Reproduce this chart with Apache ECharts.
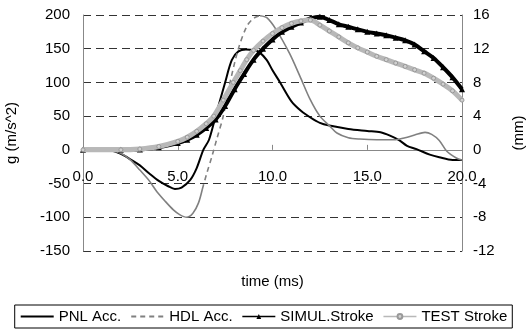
<!DOCTYPE html>
<html><head><meta charset="utf-8">
<script src="https://cdn.jsdelivr.net/npm/echarts@6/dist/echarts.min.js"></script>
<style>html,body{margin:0;padding:0;background:#fff}#c{width:527px;height:331px}</style>
</head><body><div id="c"></div><script>
// ---- data ----
const pnlT = [0,1,1.5,2,2.5,3,3.5,4,4.5,4.85,5.2,5.65,6.0,6.35,6.65,7.0,7.5,7.85,8.2,8.6,9.0,9.3,9.7,10.0,10.4,11.0,11.5,12.0,12.5,13.0,14.0,15.0,15.7,16.2,16.7,17.1,17.6,18.3,18.8,19.5,20];
const pnlG = [0,0,-1,-6,-14,-23,-35,-46,-54,-58,-56,-45,-27,0,15,50,100,133,146,149,148,145,133,118,100,72,58,48,40,36,31,28,26,21,14,6,1,-7,-11,-15,-15];

const hdlT = [0,1,1.5,2,2.5,3,3.5,3.9,4.3,4.77,5.1,5.47,5.8,6.09,6.3,6.53,6.8,7.05,7.4,7.76,8.2,8.64,9.0,9.34,9.7,10.2,10.9,11.45,12.0,12.5,13.0,13.4,14.0,14.6,15.5,16.5,17.0,17.5,18.05,18.4,18.8,19.2,19.7,20];
const hdlG = [0,0,-1,-5,-15,-30,-46,-62,-75,-89,-96,-100,-94,-79,-58,-35,-10,15,50,100,150,183,195,199,196,178,143,109,74,50,36,25,18,16,15,15,18,22,26,23,14,-2,-12,-15];

const simT = [0,2,3,4,5,5.5,6,6.5,7,7.5,8,8.5,9,9.5,10,10.5,11,11.5,12,12.5,13,13.5,14,14.5,15,15.5,16,16.5,17,17.5,18,18.5,19,19.5,20];
const simMM = [0,0,0.05,0.3,0.8,1.2,1.8,2.6,3.6,5.2,7.2,9.0,10.7,12.0,13.1,14.0,14.6,15.1,15.6,15.8,15.4,14.9,14.6,14.3,14.0,13.8,13.6,13.3,13.0,12.5,11.7,10.9,9.8,8.6,7.2];

const testT = [0,2,3,4,5,5.5,6,6.5,6.9,7.4,7.93,8.3,8.64,9,9.5,10,10.5,11,11.5,12,12.5,13,13.5,14,14.5,15,15.5,16,16.5,17,17.5,18,18.5,19,19.5,20];
const testMM = [0,0,0.1,0.4,1.0,1.5,2.2,3.1,4.0,5.9,8.0,9.4,10.7,11.8,12.9,13.8,14.5,15.0,15.3,15.4,14.8,14.1,13.4,12.7,12.1,11.6,11.1,10.7,10.3,9.9,9.5,9.1,8.5,7.8,7.0,5.9];

const seriesNames = ['PNL Acc.','HDL Acc.','SIMUL.Stroke','TEST Stroke'];
const xTitle = 'time (ms)';
const yLeftTitle = 'g (m/s^2)';
const yRightTitle = '(mm)';

// ---- build ----
const pairs = (t, v) => t.map((x, i) => [x, v[i]]);
const hdlAll = pairs(hdlT, hdlG);
const dashFrom = hdlT.indexOf(6.3), dashTo = hdlT.indexOf(9.34);
const F = 'Liberation Sans, Arial, sans-serif';
const axisCol = '#888';

const chart = echarts.init(document.getElementById('c'));
chart.setOption({
  animation: false,
  backgroundColor: '#fff',
  textStyle: {fontFamily: F, color: '#000'},
  grid: {left: 83, right: 65, top: 15, bottom: 80, containLabel: false, outerBoundsMode: 'none'},
  legend: {
    left: 'center', top: 305,
    borderColor: '#000', borderWidth: 1, padding: [4, 5],
    itemWidth: 33, itemHeight: 6, itemGap: 9,
    textStyle: {fontFamily: F, fontSize: 15, color: '#000'},
    data: [
      {name: seriesNames[0], itemStyle: {opacity: 0}},
      {name: seriesNames[1], itemStyle: {opacity: 0}},
      {name: seriesNames[2], lineStyle: {width: 1.5}},
      {name: seriesNames[3], lineStyle: {width: 1.5}}
    ]
  },
  xAxis: [{
    type: 'value', min: 0, max: 20, interval: 5, position: 'bottom',
    name: xTitle, nameLocation: 'middle', nameGap: 23,
    nameTextStyle: {fontFamily: F, fontSize: 15, color: '#000'},
    axisLine: {show: false, onZero: false},
    axisTick: {show: false},
    axisLabel: {fontFamily: F, fontSize: 15, color: '#000', margin: -82, formatter: v => v.toFixed(1)},
    splitLine: {show: false}
  }, {
    type: 'value', min: 0, max: 20, interval: 5, position: 'bottom',
    axisLine: {show: true, onZero: true, lineStyle: {color: axisCol, width: 1}},
    axisTick: {show: true, inside: true, length: 5, lineStyle: {color: axisCol}},
    axisLabel: {show: false},
    splitLine: {show: false}
  }],
  yAxis: [{
    type: 'value', min: -150, max: 200, interval: 50,
    name: yLeftTitle, nameLocation: 'middle', nameGap: 64, nameRotate: 90,
    nameTextStyle: {fontFamily: F, fontSize: 15, color: '#000'},
    axisLine: {show: true, onZero: false, lineStyle: {color: axisCol, width: 1}},
    axisTick: {show: false},
    axisLabel: {fontFamily: F, fontSize: 15, color: '#000', margin: 13},
    splitLine: {show: true, lineStyle: {color: '#333', width: 1, type: [8, 5]}}
  }, {
    type: 'value', min: -12, max: 16, interval: 4, position: 'right',
    name: yRightTitle, nameLocation: 'middle', nameGap: 49, nameRotate: 90,
    nameTextStyle: {fontFamily: F, fontSize: 15, color: '#000'},
    axisLine: {show: true, onZero: false, lineStyle: {color: axisCol, width: 1}},
    axisTick: {show: false},
    axisLabel: {fontFamily: F, fontSize: 15, color: '#000', margin: 11},
    splitLine: {show: false}
  }],
  series: [
    {name: seriesNames[0], type: 'line', yAxisIndex: 0, symbol: 'none', smooth: 0.3,
     lineStyle: {color: '#000', width: 2}, itemStyle: {color: '#000'},
     data: pairs(pnlT, pnlG), z: 3},
    {name: seriesNames[1], type: 'line', yAxisIndex: 0, symbol: 'none', smooth: 0.3,
     lineStyle: {color: '#808080', width: 1.6, type: [5, 4]}, itemStyle: {color: '#808080'},
     data: hdlAll.slice(dashFrom, dashTo + 1), z: 3},
    {name: seriesNames[1], type: 'line', yAxisIndex: 0, symbol: 'none', smooth: 0.3,
     lineStyle: {color: '#808080', width: 1.6}, itemStyle: {color: '#808080'},
     data: hdlAll.slice(0, dashFrom + 1), z: 3},
    {name: seriesNames[1], type: 'line', yAxisIndex: 0, symbol: 'none', smooth: 0.3,
     lineStyle: {color: '#808080', width: 1.6}, itemStyle: {color: '#808080'},
     data: hdlAll.slice(dashTo), z: 3},
    {name: seriesNames[2], type: 'line', yAxisIndex: 1, symbol: 'triangle', symbolSize: 6, showSymbol: true, smooth: 0.3,
     lineStyle: {color: '#000', width: 4}, itemStyle: {color: '#000', borderWidth: 0},
     data: pairs(simT, simMM), z: 4},
    {name: seriesNames[3], type: 'line', yAxisIndex: 1, symbol: 'circle', symbolSize: 4, showSymbol: true, smooth: 0.3,
     lineStyle: {color: '#b8b8b8', width: 5}, itemStyle: {color: '#d0d0d0', borderColor: '#999', borderWidth: 1},
     data: pairs(testT, testMM), z: 5}
  ]
});
</script></body></html>
